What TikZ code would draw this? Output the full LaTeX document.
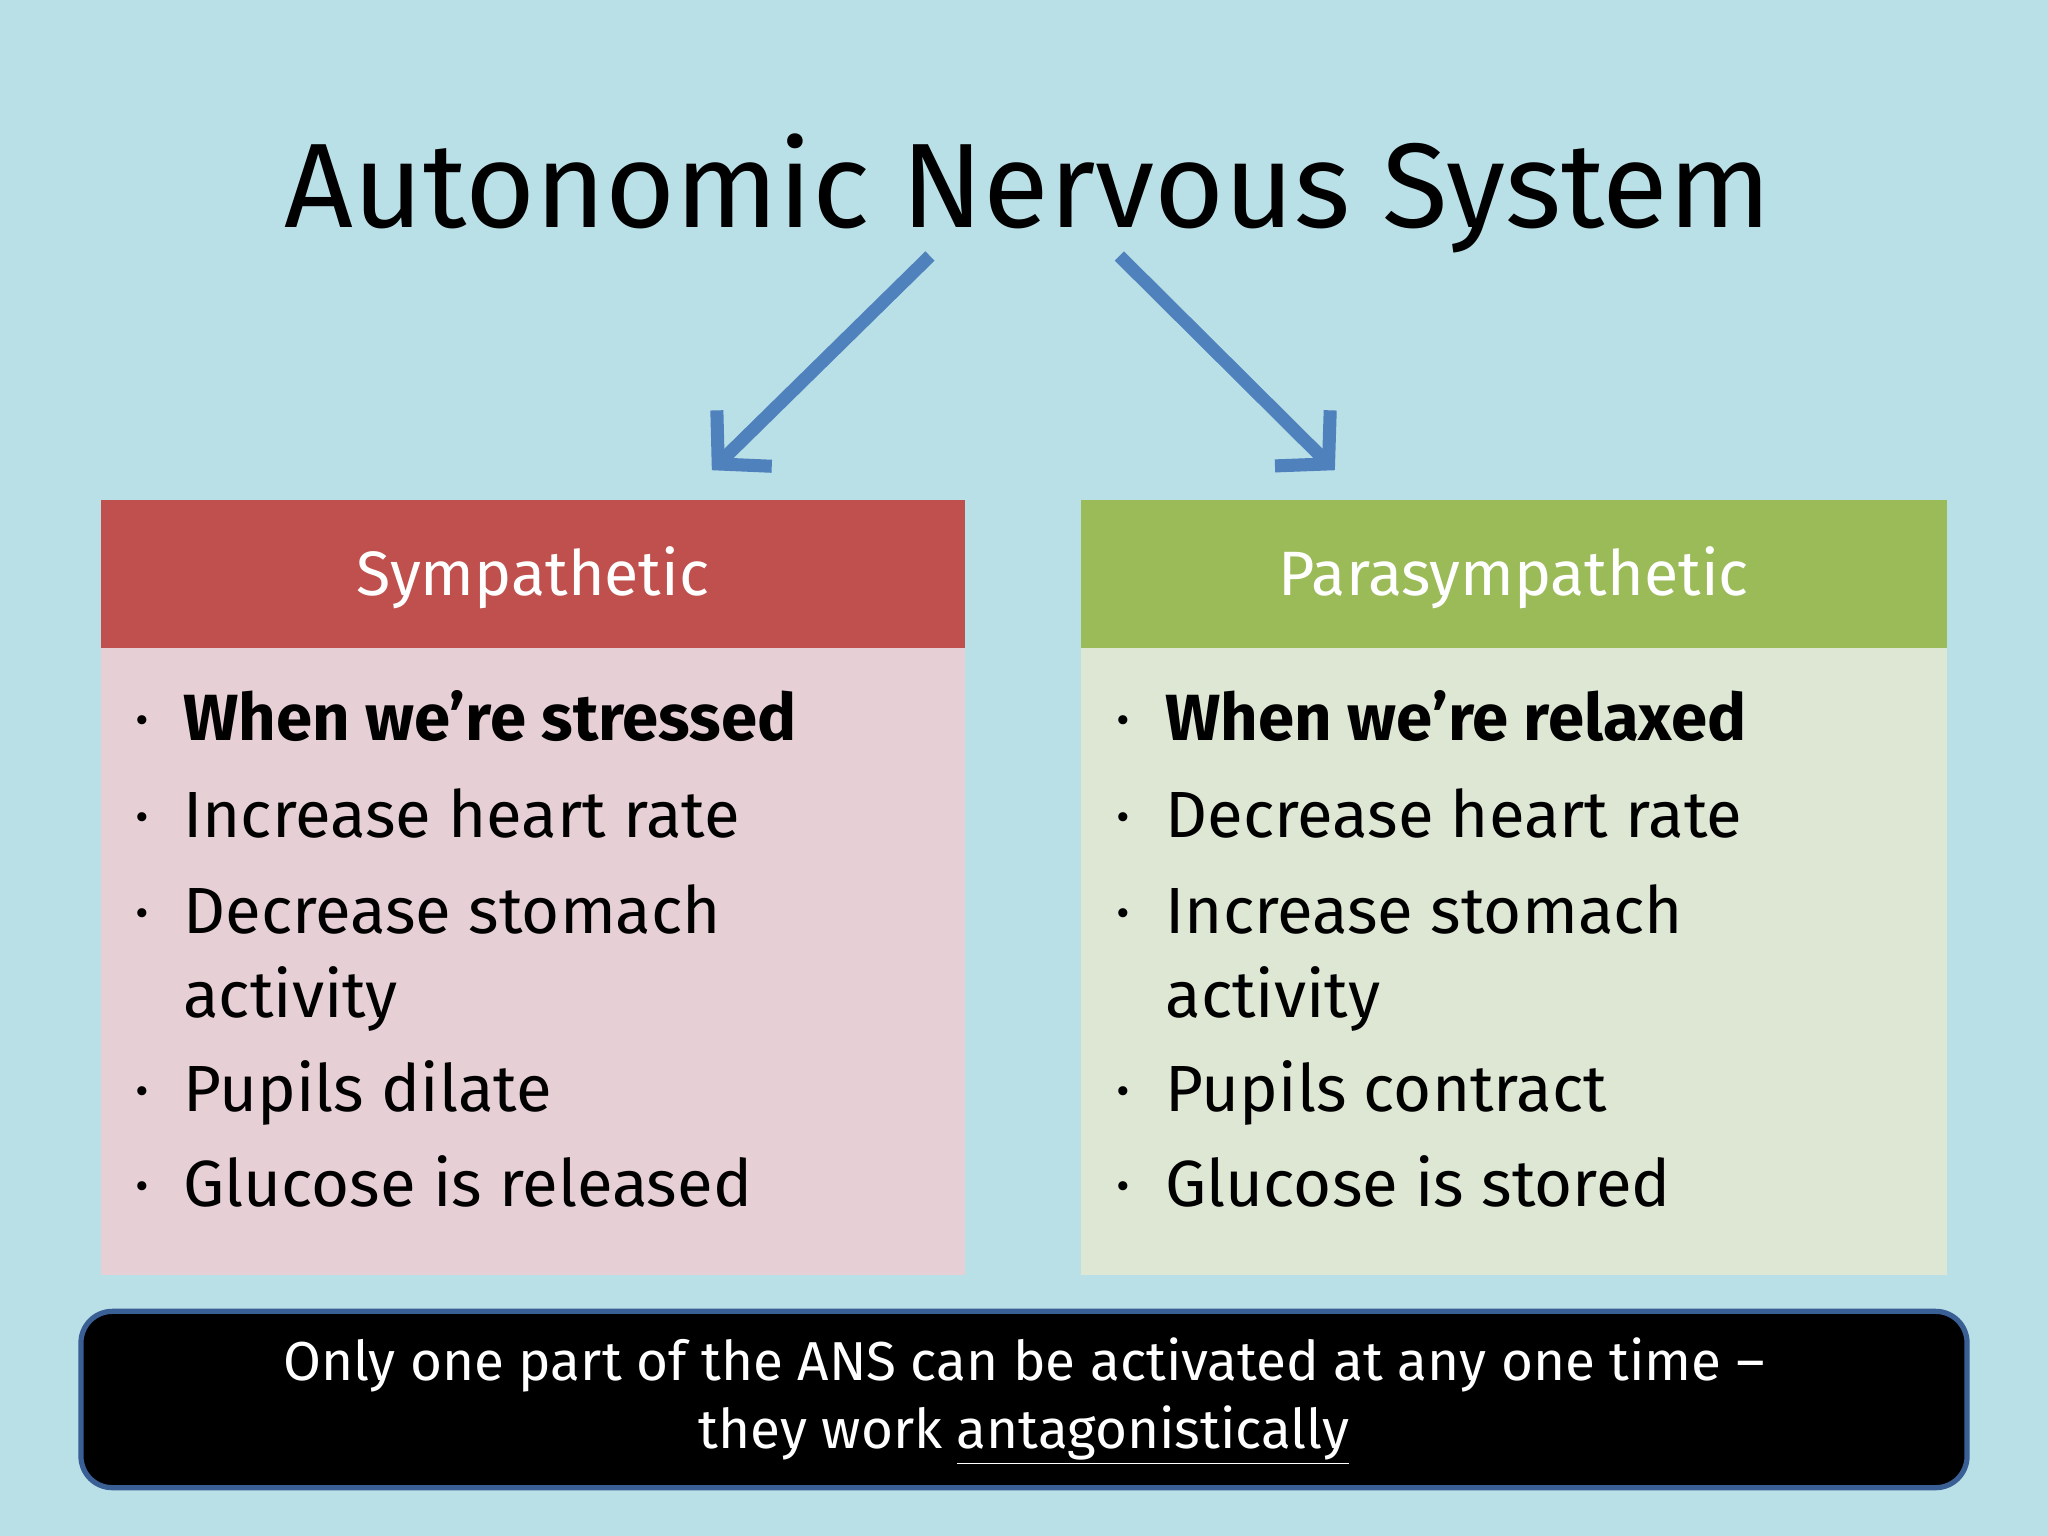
\documentclass[tikz,border=0pt]{standalone}
\usepackage{fontspec}
\setmainfont{Fira Sans}
\usetikzlibrary{arrows.meta}
\definecolor{bg}{HTML}{B9DFE7}
\definecolor{arr}{HTML}{4F81BD}
\definecolor{redh}{HTML}{C0504D}
\definecolor{redb}{HTML}{E6CFD5}
\definecolor{grnh}{HTML}{9BBB59}
\definecolor{grnb}{HTML}{DDE7D3}
\definecolor{bord}{HTML}{3A5F95}
\tikzset{
 px/.style={x=0.5pt,y=-0.5pt},
 hdr/.style={text=white,font=\fontsize{24}{28}\selectfont},
 itm/.style={anchor=base west,inner sep=0pt,font=\fontsize{25}{30}\selectfont},
 bul/.style={anchor=base,inner sep=0pt,font=\fontsize{25}{30}\selectfont},
 arrw/.style={draw=arr,line width=5pt,-{Straight Barb[length=14pt,width=30pt,line width=5pt]}},
}
\begin{document}
\begin{tikzpicture}[px]
\useasboundingbox (0,0) rectangle (1568,1176);
\fill[bg] (0,0) rectangle (1568,1176);
\node[font=\fontsize{46}{52}\selectfont] (title) at (787,148) {Autonomic Nervous System};
\coordinate (l1) at (712,196); \coordinate (l2) at (545,360);
\coordinate (r1) at (857,196); \coordinate (r2) at (1022,360);
\draw[arrw] (l1) -- (l2);
\draw[arrw] (r1) -- (r2);
% left
\fill[redb] (77,496) rectangle (739,976);
\fill[redh] (77,383) rectangle (739,496);
\node[hdr] (sh) at (408,442) {Sympathetic};
% right
\fill[grnb] (828,496) rectangle (1491,976);
\fill[grnh] (828,383) rectangle (1491,496);
\node[hdr] (ph) at (1159,442) {Parasympathetic};
% left items
\foreach \y/\t in {567/{\bfseries When we’re stressed},641/Increase heart rate,715/Decrease stomach,779/activity,851/Pupils dilate,924/Glucose is released}
  \node[itm] at (140,\y) {\t};
\foreach \y in {567,641,715,851,924} \node[bul] at (109,\y) {·};
\foreach \y/\t in {567/{\bfseries When we’re relaxed},641/Decrease heart rate,715/Increase stomach,779/activity,851/Pupils contract,924/Glucose is stored}
  \node[itm] at (892,\y) {\t};
\foreach \y in {567,641,715,851,924} \node[bul] at (860,\y) {·};
% bottom
\draw[fill=black,draw=bord,line width=2pt,rounded corners=12pt] (62,1004) rectangle (1506,1139);
\node[text=white,font=\fontsize{21}{26}\selectfont,align=center] (note) at (784,1073)
 {Only one part of the ANS can be activated at any one time –\\they work \underline{antagonistically}};
\end{tikzpicture}
\end{document}
